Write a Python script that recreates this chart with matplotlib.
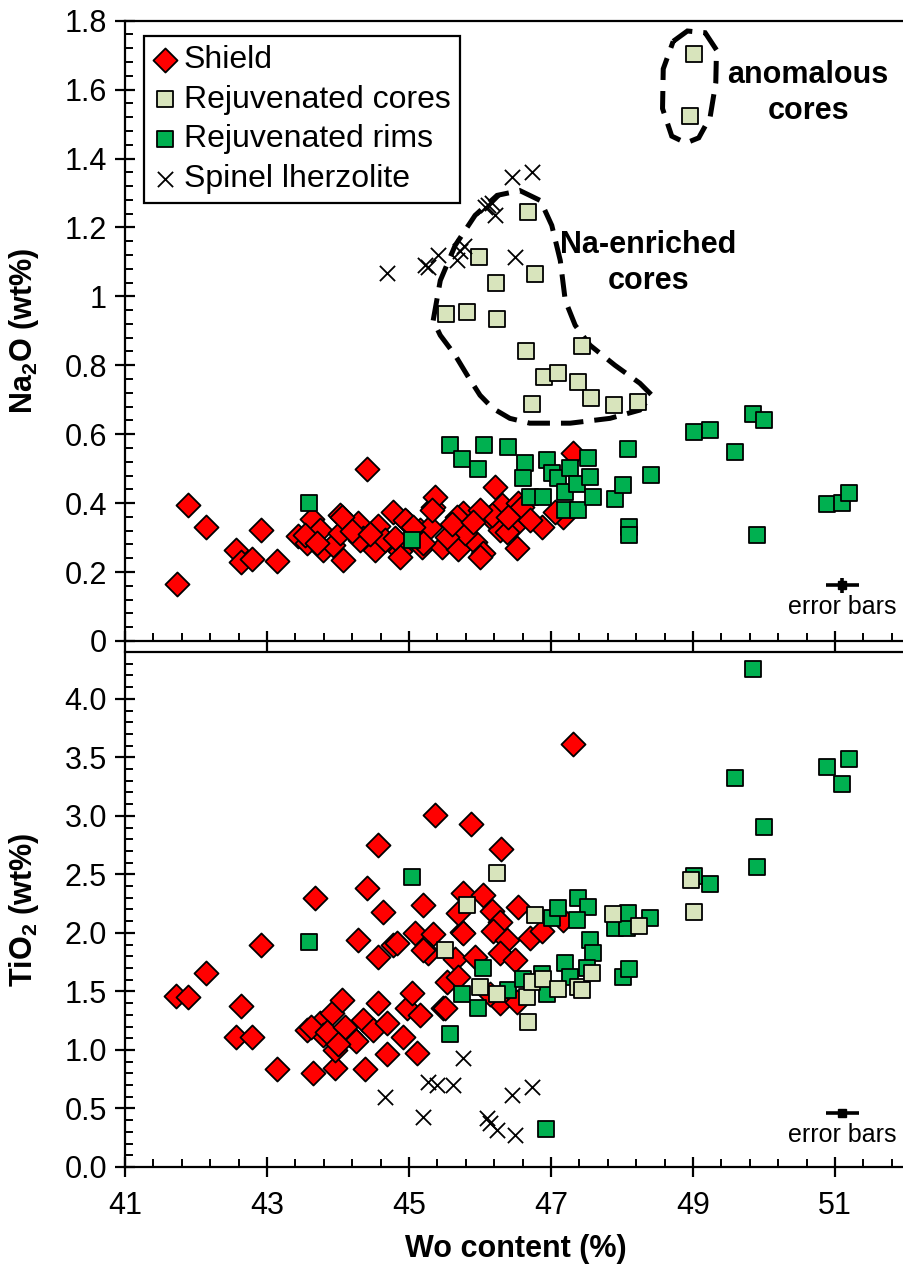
import matplotlib
matplotlib.use("Agg")
from matplotlib import pyplot as plt
from matplotlib.patches import Polygon
from matplotlib.ticker import FixedLocator, MultipleLocator, FuncFormatter
import numpy as np

plt.rcParams["font.family"] = ["Liberation Sans", "DejaVu Sans"]
plt.rcParams["mathtext.fontset"] = "custom"
plt.rcParams["mathtext.rm"] = "Liberation Sans"
plt.rcParams["mathtext.bf"] = "Liberation Sans:bold"

# ---- Na2O panel ----
na_shield_wo = [41.73, 41.89, 42.14, 42.56, 42.63, 42.79, 42.92, 43.14, 44.41, 43.44,
                43.63, 43.75, 43.56, 43.79, 43.93, 44.03, 44.03, 44.07, 44.28, 44.35,
                44.52, 44.56, 44.66, 44.77, 44.87, 44.97, 45.15, 45.18, 45.30, 45.34,
                45.37, 45.46, 45.68, 45.69, 45.76, 45.93, 46.04, 46.14, 46.21, 46.31,
                46.46, 46.52, 46.28, 47.31, 45.32, 45.79, 46.00, 46.17, 46.87, 47.17,
                46.54, 46.38, 45.54, 45.20, 44.87, 43.54, 44.06, 44.31, 44.94, 45.68,
                46.00, 46.59, 43.70, 44.20, 44.45, 44.80, 45.05, 45.60, 45.90, 46.40,
                46.70, 47.05]
na_shield = [0.165, 0.394, 0.330, 0.264, 0.229, 0.238, 0.322, 0.232, 0.499, 0.304,
             0.354, 0.322, 0.284, 0.264, 0.278, 0.365, 0.313, 0.235, 0.342, 0.298,
             0.264, 0.333, 0.293, 0.374, 0.261, 0.345, 0.322, 0.272, 0.330, 0.388,
             0.417, 0.272, 0.316, 0.267, 0.371, 0.287, 0.255, 0.359, 0.446, 0.394,
             0.330, 0.270, 0.322, 0.545, 0.380, 0.313, 0.243, 0.365, 0.330, 0.359,
             0.400, 0.316, 0.301, 0.284, 0.243, 0.307, 0.360, 0.293, 0.351, 0.360,
             0.380, 0.388, 0.285, 0.320, 0.310, 0.300, 0.330, 0.340, 0.345, 0.360,
             0.350, 0.375]

na_cores_wo = [46.68, 45.99, 46.77, 46.23, 45.52, 45.82, 46.24, 46.65, 47.44, 46.90,
               47.10, 47.38, 46.73, 47.56, 47.89, 48.23, 49.01, 48.96]
na_cores = [1.246, 1.113, 1.064, 1.038, 0.948, 0.954, 0.933, 0.841, 0.855, 0.765,
            0.777, 0.751, 0.687, 0.704, 0.684, 0.693, 1.704, 1.522]

na_rims_wo = [45.58, 45.75, 45.97, 46.06, 46.39, 46.63, 46.61, 46.94, 47.01, 47.10,
              46.70, 46.89, 47.20, 47.27, 47.37, 47.20, 47.38, 47.52, 47.55, 47.59,
              47.90, 48.01, 48.08, 48.41, 48.10, 48.10, 49.01, 49.24, 49.85, 50.00,
              49.59, 49.90, 50.89, 51.10, 51.20, 45.04, 43.59]
na_rims = [0.568, 0.527, 0.499, 0.568, 0.562, 0.516, 0.472, 0.525, 0.487, 0.472,
           0.417, 0.417, 0.432, 0.501, 0.455, 0.380, 0.380, 0.530, 0.475, 0.417,
           0.412, 0.452, 0.556, 0.481, 0.330, 0.307, 0.606, 0.611, 0.658, 0.641,
           0.548, 0.307, 0.397, 0.400, 0.429, 0.293, 0.400]

na_spinel_wo = [44.69, 45.23, 45.27, 45.41, 45.67, 45.72, 46.49, 46.07, 46.11, 46.17,
                46.21, 46.45, 46.73, 45.78]
na_spinel = [1.067, 1.090, 1.085, 1.120, 1.105, 1.133, 1.113, 1.258, 1.264, 1.270,
             1.235, 1.345, 1.360, 1.145]

# ---- TiO2 panel ----
ti_shield_wo = [45.37, 44.56, 43.68, 44.41, 44.63, 45.20, 42.92, 44.28, 44.56, 44.77,
                44.83, 45.08, 45.34, 45.27, 42.14, 41.72, 41.89, 42.63, 42.56, 42.79,
                43.14, 43.65, 43.96, 44.38, 44.69, 45.11, 43.56, 43.75, 43.92, 44.06,
                43.79, 43.96, 44.17, 44.35, 44.49, 44.56, 44.69, 44.92, 44.97, 45.04,
                45.15, 45.48, 45.75, 45.87, 45.76, 45.69, 46.30, 46.04, 46.54, 46.17,
                46.28, 45.76, 46.18, 46.38, 46.70, 46.87, 45.20, 45.65, 45.93, 46.28,
                46.49, 47.17, 45.54, 45.69, 45.51, 46.28, 46.52, 46.14, 47.31, 43.62,
                43.85, 44.10, 44.25, 44.00]
ti_shield = [3.01, 2.755, 2.30, 2.38, 2.175, 2.235, 1.893, 1.936, 1.79, 1.893,
             1.91, 1.996, 1.987, 1.825, 1.655, 1.46, 1.45, 1.373, 1.109, 1.109,
             0.836, 0.80, 0.844, 0.836, 0.964, 0.972, 1.168, 1.228, 1.313, 1.424,
             1.126, 0.998, 1.126, 1.254, 1.168, 1.399, 1.228, 1.109, 1.356, 1.484,
             1.296, 1.356, 2.004, 2.93, 2.345, 2.166, 2.72, 2.32, 2.22, 2.19,
             2.09, 2.00, 2.02, 1.936, 1.96, 2.02, 1.85, 1.78, 1.79, 1.83,
             1.765, 2.107, 1.58, 1.62, 1.356, 1.40, 1.41, 1.48, 3.616, 1.20,
             1.15, 1.20, 1.08, 1.05]

ti_cores_wo = [45.51, 45.82, 46.24, 46.77, 47.87, 48.24, 46.00, 46.24, 46.66, 46.73,
               46.89, 47.10, 47.38, 47.44, 47.58, 46.68, 48.97, 49.01]
ti_cores = [1.85, 2.24, 2.51, 2.15, 2.16, 2.06, 1.54, 1.48, 1.45, 1.58,
            1.61, 1.52, 1.54, 1.51, 1.66, 1.235, 2.45, 2.18]

ti_rims_wo = [45.04, 43.59, 45.75, 45.58, 46.04, 45.97, 46.39, 46.61, 46.87, 46.94,
              47.20, 47.27, 47.01, 47.10, 47.38, 47.52, 47.37, 47.55, 47.59, 47.51,
              47.90, 48.07, 48.08, 48.39, 48.01, 48.10, 46.93, 49.85, 49.59, 50.89,
              51.20, 51.10, 50.00, 49.90, 49.24, 49.01]
ti_rims = [2.48, 1.92, 1.48, 1.134, 1.70, 1.356, 1.51, 1.61, 1.65, 1.48,
           1.74, 1.62, 2.13, 2.21, 2.30, 2.22, 2.107, 1.936, 1.825, 1.70,
           2.04, 2.04, 2.166, 2.124, 1.62, 1.69, 0.324, 4.256, 3.326, 3.42,
           3.488, 3.275, 2.908, 2.559, 2.42, 2.49]

ti_spinel_wo = [45.76, 45.27, 45.39, 45.62, 44.66, 45.20, 46.10, 46.14, 46.24, 46.49,
                46.45, 46.73]
ti_spinel = [0.93, 0.725, 0.70, 0.70, 0.60, 0.426, 0.418, 0.375, 0.316, 0.273,
             0.614, 0.682]

wo_ticks = [41, 43, 45, 47, 49, 51]

# error bar symbols (x, y, xerr, yerr)
na_err = (51.1, 0.162, 0.23, 0.022)
ti_err = (51.1, 0.46, 0.23, 0.035)

# dashed outlines (data coordinates of the hand-drawn fields)
na_field_wo = [45.34, 45.44, 45.65, 45.93, 46.24, 46.56, 46.85, 47.01, 47.13, 47.20,
               47.34, 47.55, 47.90, 48.25, 48.42, 48.25, 47.83, 47.27, 46.70, 46.42,
               46.18, 46.00, 45.82, 45.65, 45.44]
na_field = [0.930, 1.046, 1.148, 1.235, 1.293, 1.307, 1.278, 1.206, 1.104, 0.988,
            0.916, 0.858, 0.800, 0.748, 0.713, 0.670, 0.646, 0.632, 0.632, 0.646,
            0.675, 0.713, 0.771, 0.829, 0.887]
anom_field_wo = [48.72, 48.92, 49.17, 49.33, 49.32, 49.24, 49.08, 48.90, 48.70, 48.57,
                 48.58]
anom_field = [1.740, 1.770, 1.765, 1.715, 1.620, 1.520, 1.460, 1.445, 1.465, 1.545,
              1.660]

RED = "#FF0000"
PALE = "#D8E4BC"
GREEN = "#00B050"

fig = plt.figure(figsize=(9.04, 12.68), dpi=100)
ax1 = fig.add_axes([0.1383, 0.4945, 0.8640, 0.4892])
ax2 = fig.add_axes([0.1383, 0.0797, 0.8640, 0.4061])


def draw_series(ax, sh, rim, core, sp):
    ax.scatter(*sh, marker="D", s=150, c=RED, edgecolors="black", linewidths=1.3,
               zorder=3, label="Shield")
    ax.scatter(*rim, marker="s", s=140, c=GREEN, edgecolors="black", linewidths=1.3,
               zorder=4, label="Rejuvenated rims")
    ax.scatter(*core, marker="s", s=140, c=PALE, edgecolors="black", linewidths=1.3,
               zorder=5, label="Rejuvenated cores")
    ax.scatter(*sp, marker="x", s=120, c="black", linewidths=1.3, zorder=6,
               label="Spinel lherzolite")


def style_axis(ax, ylim, ymajor, yminor, fmt):
    ax.set_xlim(41, 52)
    ax.set_ylim(*ylim)
    ax.spines["right"].set_visible(False)
    for s in ["left", "bottom", "top"]:
        ax.spines[s].set_linewidth(1.6)
    ax.xaxis.set_major_locator(FixedLocator(wo_ticks))
    ax.xaxis.set_minor_locator(FixedLocator(np.arange(41, 52.01, 0.4)))
    ax.yaxis.set_major_locator(MultipleLocator(ymajor))
    ax.yaxis.set_minor_locator(MultipleLocator(yminor))
    ax.yaxis.set_major_formatter(FuncFormatter(fmt))
    ax.tick_params(which="major", direction="inout", length=14, width=1.6,
                   labelsize=22, pad=6)
    ax.tick_params(which="minor", direction="in", length=6, width=1.4)
    ax.tick_params(axis="x", which="both", top=False)


draw_series(ax1, (na_shield_wo, na_shield), (na_rims_wo, na_rims),
            (na_cores_wo, na_cores), (na_spinel_wo, na_spinel))
draw_series(ax2, (ti_shield_wo, ti_shield), (ti_rims_wo, ti_rims),
            (ti_cores_wo, ti_cores), (ti_spinel_wo, ti_spinel))

style_axis(ax1, (0, 1.8), 0.2, 0.04, lambda v, p: f"{v:g}")
style_axis(ax2, (0, 4.4), 0.5, 0.1, lambda v, p: f"{v:.1f}" if v < 4.3 else "")
ax1.tick_params(axis="x", labelbottom=False)
ax2.tick_params(axis="x", pad=10)

ax1.set_ylabel(r"Na$_\mathbf{2}$O (wt%)", fontsize=22, fontweight="bold")
ax2.set_ylabel(r"TiO$_\mathbf{2}$ (wt%)", fontsize=22, fontweight="bold")
ax2.set_xlabel("Wo content (%)", fontsize=22, fontweight="bold", labelpad=10)
ax1.yaxis.set_label_coords(-0.108, 0.5)
ax2.yaxis.set_label_coords(-0.108, 0.5)

# dashed fields
for xs, ys in [(na_field_wo, na_field), (anom_field_wo, anom_field)]:
    ax1.add_patch(Polygon(np.column_stack([xs, ys]), closed=True, fill=False,
                          edgecolor="black", linewidth=3.6,
                          linestyle=(0, (4.5, 2.2)), zorder=2))

ax1.text(50.62, 1.59, "anomalous\ncores", fontsize=22, fontweight="bold",
         ha="center", va="center", linespacing=1.25)
ax1.text(48.37, 1.096, "Na-enriched\ncores", fontsize=22, fontweight="bold",
         ha="center", va="center", linespacing=1.25)

# error bar symbols
for ax, (ex, ey, exe, eye), ty in [(ax1, na_err, 0.098), (ax2, ti_err, 0.27)]:
    ax.errorbar(ex, ey, xerr=exe, yerr=eye, fmt="s", ms=6, color="black",
                elinewidth=2.6, capsize=0, zorder=6)
    ax.text(ex, ty, "error bars", fontsize=18, ha="center", va="center")

handles, labels = ax1.get_legend_handles_labels()
order = [0, 2, 1, 3]
leg = ax1.legend([handles[i] for i in order], [labels[i] for i in order],
                 loc="upper left", bbox_to_anchor=(0.024, 0.976), fontsize=23,
                 frameon=True, fancybox=False, framealpha=1, edgecolor="black",
                 handlelength=0.7, handletextpad=0.25, labelspacing=0.3,
                 borderpad=0.3, borderaxespad=0, scatterpoints=1)
leg.get_frame().set_linewidth(1.6)

fig.savefig("out.png", dpi=100)
